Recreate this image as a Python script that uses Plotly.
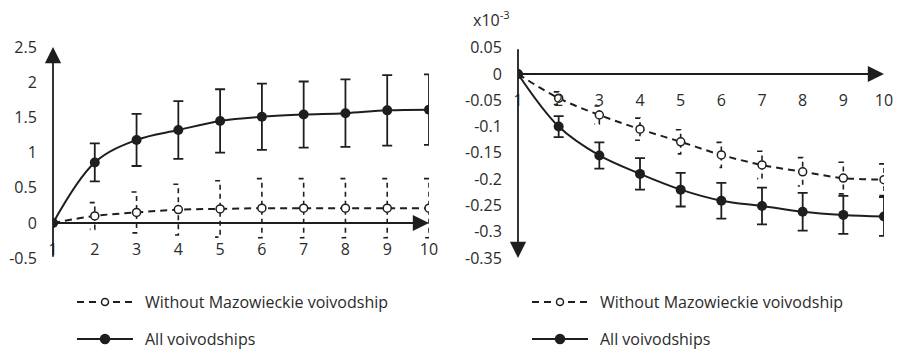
import plotly.graph_objects as go

W, H = 899, 351

periods = [1, 2, 3, 4, 5, 6, 7, 8, 9, 10]

# Left panel
left_without = [0, 0.10, 0.15, 0.19, 0.20, 0.21, 0.21, 0.21, 0.21, 0.21]
left_without_err = [0, 0.19, 0.29, 0.36, 0.40, 0.42, 0.42, 0.42, 0.42, 0.42]
left_all = [0, 0.86, 1.18, 1.32, 1.45, 1.51, 1.54, 1.56, 1.60, 1.61]
left_all_err = [0, 0.27, 0.37, 0.41, 0.45, 0.47, 0.47, 0.48, 0.50, 0.50]
left_yticks = [-0.5, 0, 0.5, 1, 1.5, 2, 2.5]
left_yticklabels = ["-0.5", "0", "0.5", "1", "1.5", "2", "2.5"]

# Right panel (values in units of 10^-3)
right_without = [0, -0.046, -0.078, -0.105, -0.129, -0.154, -0.173, -0.186, -0.198, -0.201]
right_without_err = [0, 0.012, 0.017, 0.021, 0.023, 0.024, 0.026, 0.027, 0.030, 0.030]
right_all = [0, -0.100, -0.155, -0.190, -0.220, -0.241, -0.251, -0.262, -0.268, -0.271]
right_all_err = [0, 0.020, 0.025, 0.030, 0.032, 0.034, 0.035, 0.036, 0.036, 0.037]
right_yticks = [-0.35, -0.3, -0.25, -0.2, -0.15, -0.1, -0.05, 0, 0.05]
right_yticklabels = ["-0.35", "-0.3", "-0.25", "-0.2", "-0.15", "-0.1", "-0.05", "0", "0.05"]

name_without = "Without Mazowieckie voivodship"
name_all = "All voivodships"

INK = "#1e1e1e"
TXT = "#2b2b2b"
FONT = "Open Sans"
FS = 16


def dashed_err_path(xs, ys, es, cap=0.12):
    px, py = [], []
    for x, y, e in zip(xs, ys, es):
        if e <= 0:
            continue
        px += [x - cap, x, x, x - cap, None]
        py += [y + e, y + e, y - e, y - e, None]
    return px, py


fig = go.Figure()


def add_panel(xa, ya, without, without_err, allv, all_err):
    ex, ey = dashed_err_path(periods, without, without_err)
    fig.add_trace(go.Scatter(x=ex, y=ey, mode="lines", xaxis=xa, yaxis=ya,
                             line=dict(color=INK, width=1.6, dash="5px,4px"),
                             showlegend=False, hoverinfo="skip"))
    fig.add_trace(go.Scatter(x=periods, y=without, mode="lines+markers", name=name_without,
                             xaxis=xa, yaxis=ya, showlegend=False,
                             line=dict(color=INK, width=2, dash="7px,5px", shape="spline"),
                             marker=dict(symbol="circle", size=8, color="white",
                                         line=dict(color=INK, width=1.5))))
    fig.add_trace(go.Scatter(x=periods, y=allv, mode="lines+markers", name=name_all,
                             xaxis=xa, yaxis=ya, showlegend=False,
                             line=dict(color=INK, width=2, shape="spline"),
                             marker=dict(symbol="circle", size=10, color=INK),
                             error_y=dict(type="data", array=all_err, visible=True,
                                          color=INK, thickness=1.8, width=5)))


add_panel("x", "y", left_without, left_without_err, left_all, left_all_err)
add_panel("x2", "y2", right_without, right_without_err, right_all, right_all_err)

axis_common = dict(showgrid=False, zeroline=False, showline=False, automargin=False,
                   tickfont=dict(family=FONT, size=FS, color=TXT))


def px2x(p):
    return p / W


def px2y(p):
    return (H - p) / H


fig.update_layout(
    width=W, height=H,
    margin=dict(l=0, r=0, t=0, b=0, autoexpand=False),
    paper_bgcolor="white", plot_bgcolor="white",
    font=dict(family=FONT, size=FS, color=TXT),
    showlegend=False,
    xaxis=dict(domain=[px2x(53), px2x(429)], range=[1, 10], anchor="free",
               position=px2y(238), tickvals=periods, ticks="", **axis_common),
    yaxis=dict(domain=[px2y(258.2), px2y(47)], range=[-0.5, 2.5], anchor="x",
               tickvals=left_yticks, ticktext=left_yticklabels,
               ticks="outside", ticklen=12, tickcolor="rgba(0,0,0,0)", **axis_common),
    xaxis2=dict(domain=[px2x(518), px2x(884)], range=[1, 10], anchor="free",
                position=px2y(89), tickvals=periods, ticks="", **axis_common),
    yaxis2=dict(domain=[px2y(258), px2y(47.7)], range=[-0.35, 0.05], anchor="x2",
                tickvals=right_yticks, ticktext=right_yticklabels,
                ticks="outside", ticklen=12, tickcolor="rgba(0,0,0,0)", **axis_common),
)

arrow = dict(showarrow=True, text="", arrowhead=2, arrowsize=1.8, arrowwidth=1.8,
             arrowcolor=INK, standoff=0, startstandoff=0)

fig.add_annotation(x=1, y=2.5, ax=1, ay=-0.5, xref="x", yref="y", axref="x", ayref="y", **arrow)
fig.add_annotation(x=10, y=0, ax=1, ay=0, xref="x", yref="y", axref="x", ayref="y", **arrow)
fig.add_annotation(x=1, y=-0.35, ax=1, ay=0.05, xref="x2", yref="y2", axref="x2", ayref="y2", **arrow)
fig.add_annotation(x=10, y=0, ax=1, ay=0, xref="x2", yref="y2", axref="x2", ayref="y2", **arrow)

fig.add_annotation(x=px2x(471), y=px2y(19), xref="paper", yref="paper",
                   xanchor="left", yanchor="middle",
                   showarrow=False, text="x10<sup>-3</sup>",
                   font=dict(family=FONT, size=FS, color=TXT))

# Legends (one under each panel)
for x0 in (77, 532):
    rows = [(302, name_without, "dash", "white", 3.5), (339, name_all, "solid", INK, 4.5)]
    for yc, label, dash, fill, r in rows:
        fig.add_shape(type="line", xref="paper", yref="paper",
                      x0=px2x(x0), x1=px2x(x0 + 56), y0=px2y(yc), y1=px2y(yc),
                      line=dict(color=INK, width=2, dash="7px,5px" if dash == "dash" else "solid"))
        cx = x0 + 28
        fig.add_shape(type="circle", xref="paper", yref="paper",
                      x0=px2x(cx - r), x1=px2x(cx + r), y0=px2y(yc + r), y1=px2y(yc - r),
                      fillcolor=fill, line=dict(color=INK, width=1.5))
        fig.add_annotation(x=px2x(x0 + 66), y=px2y(yc), xref="paper", yref="paper",
                           xanchor="left", yanchor="middle", showarrow=False, text=label,
                           font=dict(family=FONT, size=FS, color=TXT))

fig.write_html("out.html")
